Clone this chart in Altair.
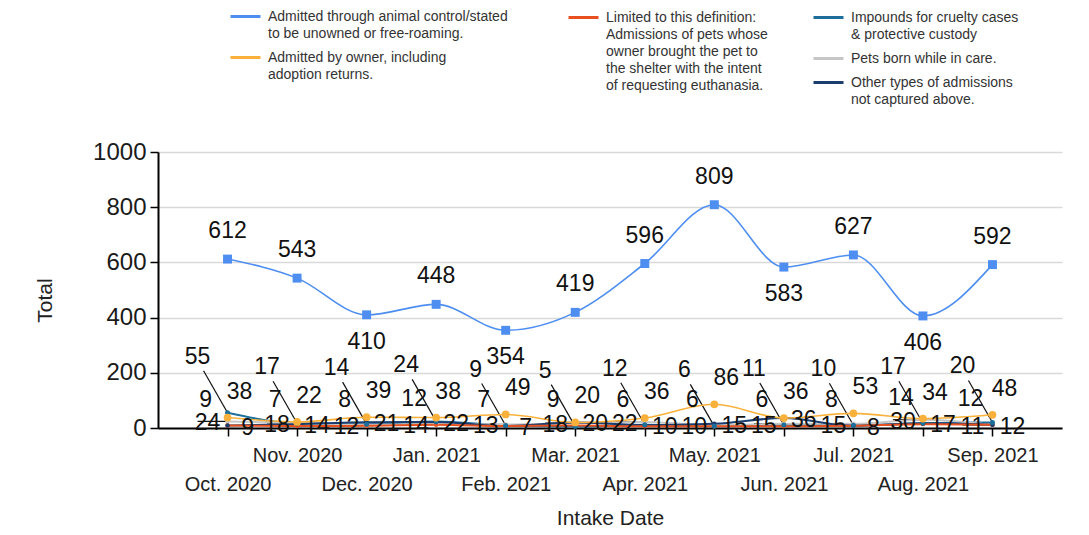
import altair as alt
import pandas as pd

months = ["Oct. 2020", "Nov. 2020", "Dec. 2020", "Jan. 2021", "Feb. 2021", "Mar. 2021",
          "Apr. 2021", "May. 2021", "Jun. 2021", "Jul. 2021", "Aug. 2021", "Sep. 2021"]

s_control = "Admitted through animal control/stated|to be unowned or free-roaming."
s_owner = "Admitted by owner, including|adoption returns."
s_euth = ("Limited to this definition:|Admissions of pets whose|owner brought the pet to|"
          "the shelter with the intent|of requesting euthanasia.")
s_cruel = "Impounds for cruelty cases|& protective custody"
s_born = "Pets born while in care."
s_other = "Other types of admissions|not captured above."

control = [612, 543, 410, 448, 354, 419, 596, 809, 583, 627, 406, 592]
owner = [38, 22, 39, 38, 49, 20, 36, 86, 36, 53, 34, 48]
euth = [9, 7, 8, 12, 7, 9, 6, 6, 6, 8, 14, 12]
cruel = [55, 17, 14, 24, 9, 5, 12, 6, 11, 10, 17, 20]
born = [24, 18, 12, 14, 13, 18, 22, 10, 15, 15, 30, 11]
other = [9, 14, 21, 22, 7, 20, 10, 15, 36, 8, 17, 12]

series_values = {s_control: control, s_owner: owner, s_euth: euth,
                 s_cruel: cruel, s_born: born, s_other: other}

rows = []
for name, vals in series_values.items():
    for i, (m, v) in enumerate(zip(months, vals)):
        prev_v = vals[i - 1] if i > 0 else float("inf")
        next_v = vals[i + 1] if i < len(vals) - 1 else float("inf")
        rows.append({"month": m, "series": name, "value": v,
                     "below": bool(v < prev_v and v < next_v)})
df = pd.DataFrame(rows)

FONT = "Liberation Sans"
upper_row = months[1::2]
upper_js = "[" + ",".join("'" + m + "'" for m in upper_row) + "]"

X = alt.X("month:N", sort=months,
          scale=alt.Scale(type="point", padding=1.02),
          axis=alt.Axis(title="Intake Date", labelAngle=0, labelOverlap=False,
                        labelExpr=f"indexof({upper_js}, datum.value) >= 0 ? datum.label : ['', datum.label]",
                        labelLineHeight=29, labelFontSize=20, labelFont=FONT, labelColor="#222",
                        labelPadding=9, tickSize=8, tickColor="#000", tickWidth=1.5,
                        domainColor="#000", domainWidth=2, grid=False,
                        titleFontSize=21, titleFont=FONT, titleFontWeight="normal", titleColor="#222",
                        titleY=90, titleBaseline="middle"))
Y = alt.Y("value:Q", scale=alt.Scale(domain=[0, 1000]),
          axis=alt.Axis(title="Total", values=[0, 200, 400, 600, 800, 1000], format="d",
                        labelFontSize=24, labelFont=FONT, labelColor="#1a1a1a", labelPadding=4,
                        tickSize=8, tickColor="#000", tickWidth=1.5,
                        domainColor="#000", domainWidth=2,
                        grid=True, gridColor="#d9d9d9", gridWidth=1.5,
                        titleFontSize=21, titleFont=FONT, titleFontWeight="normal", titleColor="#222",
                        titleX=-113, titleY=148, titleAngle=-90, titleAlign="center",
                        titleBaseline="middle"))


def legend(lx, ly):
    return alt.Legend(title=None, orient="none", legendX=lx, legendY=ly, direction="vertical",
                      symbolType="stroke", symbolSize=900, symbolStrokeWidth=3,
                      labelFontSize=14, labelFont=FONT, labelColor="#333",
                      labelExpr="split(datum.label, '|')", labelLimit=400, labelOffset=6,
                      rowPadding=-4)


def line_group(series_list, colors, width, lx, ly):
    return alt.Chart(df).transform_filter(
        alt.FieldOneOfPredicate(field="series", oneOf=series_list)
    ).mark_line(interpolate="monotone", strokeWidth=width).encode(
        x=X, y=Y,
        color=alt.Color("series:N", scale=alt.Scale(domain=series_list, range=colors),
                        legend=legend(lx, ly)),
        detail="series:N",
    )


def points(name, color, shape, size):
    return alt.Chart(df).transform_filter(alt.datum.series == name).mark_point(
        filled=True, opacity=1, shape=shape, size=size, color=color).encode(x=X, y=Y)


def labels(name, dx, dy, extra=None):
    base = alt.Chart(df).transform_filter(alt.datum.series == name)
    if extra is not None:
        base = base.transform_filter(extra)
    return base.mark_text(dx=dx, dy=dy, fontSize=23, font=FONT, color="#111").encode(
        x=X, y=Y, text="value:Q")


def leader(name, ox, oy):
    return alt.Chart(df).transform_filter(alt.datum.series == name).mark_rule(
        color="#111", strokeWidth=1.2, x2Offset=ox, y2Offset=oy).encode(
        x=X, y=Y, x2=alt.X2("month:N"), y2=alt.Y2("value:Q"))


blue, orange, red = "#4d8ef0", "#f9b13b", "#e8501f"
teal, gray, navy = "#1b6f9a", "#c6c6c6", "#1c3d6e"

lines_c = line_group([s_cruel, s_born, s_other], [teal, gray, navy], 2, 654, -151)
lines_b = line_group([s_euth], [red], 2, 409, -151)
lines_a = line_group([s_control, s_owner], [blue, orange], 1.6, 71, -152)

layers = [
    leader(s_cruel, -24, -42),
    leader(s_born, -30, 0),
    lines_c, lines_b, lines_a,
    points(s_born, gray, "circle", 20),
    points(s_euth, red, "circle", 20),
    points(s_other, navy, "circle", 20),
    points(s_cruel, teal, "circle", 25),
    points(s_owner, orange, "circle", 60),
    points(s_control, blue, "square", 80),
    labels(s_control, 0, -28, alt.datum.below == False),
    labels(s_control, 0, 27, alt.datum.below == True),
    labels(s_owner, 12, -26),
    labels(s_euth, -22, -26),
    labels(s_cruel, -30, -56),
    labels(s_born, -20, 2),
    labels(s_other, 20, 2),
]

chart = alt.layer(*layers).resolve_scale(color="independent").properties(
    width=904, height=276,
    autosize=alt.AutoSizeParams(type="none"),
    padding={"left": 150, "top": 144, "right": 15, "bottom": 99},
).configure(style={"guide-label": {"lineHeight": 17}}).configure_view(strokeWidth=0)

chart.save("out.html", embed_options={"renderer": "svg", "actions": False})
